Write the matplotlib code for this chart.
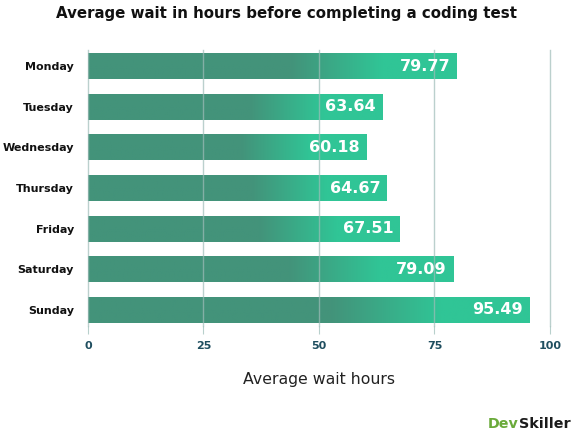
import numpy as np
import matplotlib.pyplot as plt
from matplotlib.colors import LinearSegmentedColormap

days = ["Monday", "Tuesday", "Wednesday", "Thursday", "Friday", "Saturday", "Sunday"]
hours = [79.77, 63.64, 60.18, 64.67, 67.51, 79.09, 95.49]
xticks = [0, 25, 50, 75, 100]

title = "Average wait in hours before completing a coding test"
xlabel = "Average wait hours"

plt.rcParams['font.family'] = ['DejaVu Sans']

fig = plt.figure(figsize=(5.72, 4.33), dpi=100)
ax = fig.add_axes([0.1538, 0.2471, 0.8077, 0.6374])

dark = "#43937a"
light = "#30c596"
cmap = LinearSegmentedColormap.from_list("g", [(0, dark), (0.55, dark), (0.8, light), (1, light)])
grad = np.linspace(0, 1, 256).reshape(1, -1)

ypos = np.arange(len(days))
bars = ax.barh(ypos, hours, height=0.64, color="none", edgecolor="none", zorder=2)
for b, v, y in zip(bars, hours, ypos):
    x0, y0 = b.get_x(), b.get_y()
    w, h = b.get_width(), b.get_height()
    im = ax.imshow(grad, cmap=cmap, extent=(x0, x0 + w, y0 + h, y0), aspect="auto", zorder=2,
                   interpolation="bilinear")
    im.set_clip_path(b)
    ax.text(x0 + w - 1.4, y, f"{v:.2f}", ha="right", va="center", color="white",
            fontsize=11.5, fontweight="bold", zorder=4)

ax.set_xlim(0, 100)
ax.set_ylim(len(days) - 0.6, -0.4)
ax.set_xticks(xticks)
ax.set_xticklabels([str(t) for t in xticks])
ax.set_yticks(ypos)
ax.set_yticklabels(days)

for t in xticks:
    ax.axvline(t, color="#9fbcb8", lw=1, alpha=0.7, zorder=3, clip_on=False)

for s in ax.spines.values():
    s.set_visible(False)
ax.tick_params(axis="x", length=6, color="#b8d0cc", labelcolor="#1f4e5f", labelsize=8, pad=5)
ax.tick_params(axis="y", length=0, labelsize=8, pad=10, labelcolor="#111111")
for lbl in ax.get_xticklabels():
    lbl.set_fontweight("bold")
for lbl in ax.get_yticklabels():
    lbl.set_fontweight("semibold")

ax.set_xlabel(xlabel, fontsize=11.3, color="#222222", labelpad=15)
fig.text(0.5, 0.968, title, ha="center", va="center", fontsize=10.8, fontweight="bold", color="#111111")

fig.text(0.997, 0.004, "Skiller", ha="right", va="bottom", fontsize=10.3, fontweight="bold", color="#1b1b1b")
fig.canvas.draw()
r = fig.canvas.get_renderer()
sk = fig.texts[-1].get_window_extent(r)
fig.text(sk.x0 / fig.bbox.width, 0.004, "Dev", ha="right", va="bottom", fontsize=10.3, fontweight="bold",
         color="#6aaa3a")

fig.savefig("out.png", dpi=100)
